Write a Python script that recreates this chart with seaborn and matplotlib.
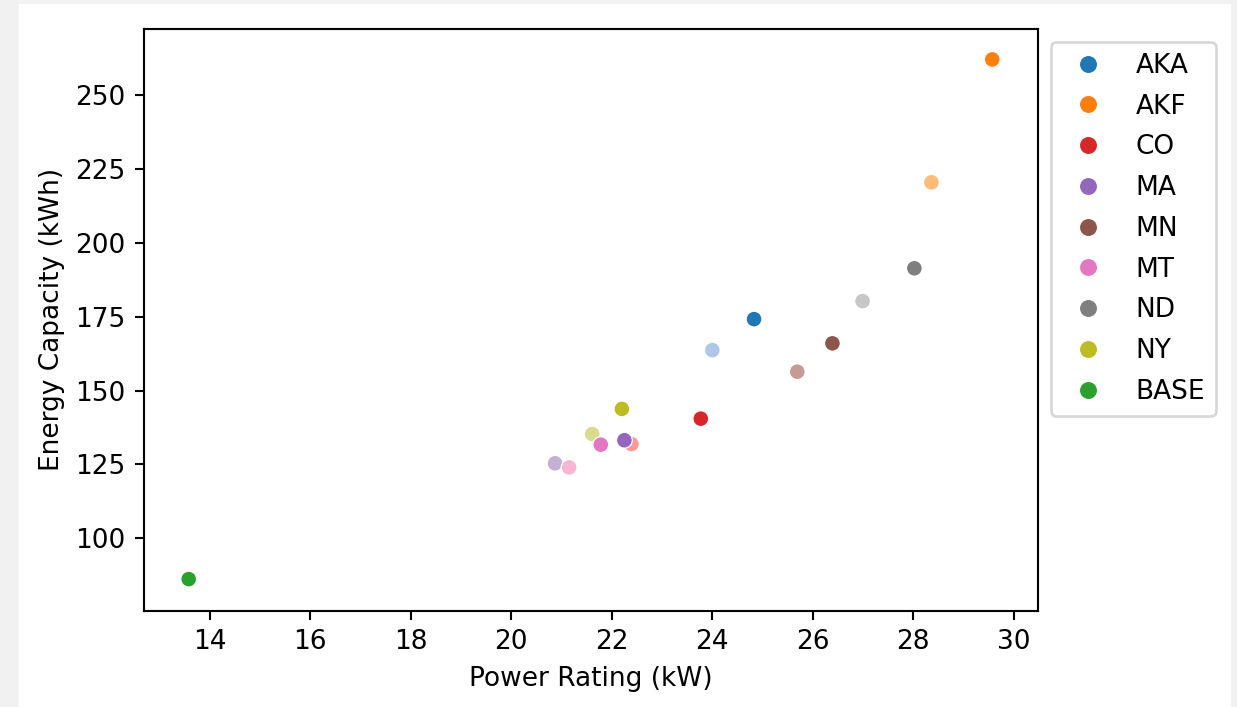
import matplotlib
matplotlib.use('Agg')
import matplotlib.pyplot as plt
import seaborn as sns
import pandas as pd
from matplotlib.patches import Rectangle

plt.rcParams['font.family'] = 'DejaVu Sans'

# Регионы (порядок легенды)
regions = ['AKA', 'AKF', 'CO', 'MA', 'MN', 'MT', 'ND', 'NY', 'BASE']

# Основной сценарий (тёмные точки, в легенде)
power_main = [24.83, 29.57, 23.77, 22.25, 26.39, 21.78, 28.02, 22.20, 13.58]
energy_main = [174.2, 262.1, 140.5, 133.2, 166.0, 131.7, 191.4, 143.8, 86.2]

# Второй сценарий (светлые точки, без легенды)
regions_alt = ['AKA', 'AKF', 'CO', 'MA', 'MN', 'MT', 'ND', 'NY']
power_alt = [24.00, 28.36, 22.39, 20.87, 25.69, 21.15, 26.99, 21.61]
energy_alt = [163.7, 220.5, 131.9, 125.4, 156.4, 124.0, 180.3, 135.3]

colors_main = ['#1f77b4', '#ff7f0e', '#d62728', '#9467bd', '#8c564b',
               '#e377c2', '#7f7f7f', '#bcbd22', '#2ca02c']
colors_alt = ['#aec7e8', '#ffbb78', '#ff9896', '#c5b0d5', '#c49c94',
              '#f7b6d2', '#c7c7c7', '#dbdb8d']

df_main = pd.DataFrame({'region': regions, 'power': power_main,
                        'energy': energy_main})
df_alt = pd.DataFrame({'region': regions_alt, 'power': power_alt,
                       'energy': energy_alt})

DPI = 190
fig = plt.figure(figsize=(1237 / DPI, 707 / DPI), dpi=DPI)
ax = fig.add_axes([0.1164, 0.1362, 0.8391 - 0.1164, 0.959 - 0.1362])

# серые поля как у скриншота ноутбука
fig.patches.append(Rectangle((0, 0), 17 / 1237, 1, transform=fig.transFigure,
                             color='#f1f1f1', zorder=-10))
fig.patches.append(Rectangle((1232 / 1237, 0), 5 / 1237, 1,
                             transform=fig.transFigure,
                             color='#f1f1f1', zorder=-10))
fig.patches.append(Rectangle((0, 1 - 2 / 707), 1, 2 / 707,
                             transform=fig.transFigure,
                             color='#f1f1f1', zorder=-10))

sns.scatterplot(data=df_alt, x='power', y='energy', hue='region',
                hue_order=regions_alt,
                palette=dict(zip(regions_alt, colors_alt)),
                legend=False, s=36, ax=ax)
sns.scatterplot(data=df_main, x='power', y='energy', hue='region',
                hue_order=regions,
                palette=dict(zip(regions, colors_main)),
                s=36, ax=ax)

ax.set_xlim(12.69, 30.48)
ax.set_ylim(75.5, 272.4)
ax.set_xticks([14, 16, 18, 20, 22, 24, 26, 28, 30])
ax.set_yticks([100, 125, 150, 175, 200, 225, 250])
ax.set_xlabel('Power Rating (kW)')
ax.set_ylabel('Energy Capacity (kWh)')
ax.legend(loc='upper left', bbox_to_anchor=(1, 1),
          labelspacing=0.56, markerscale=1.15)

plt.savefig('out.png', dpi=DPI)
plt.close()
